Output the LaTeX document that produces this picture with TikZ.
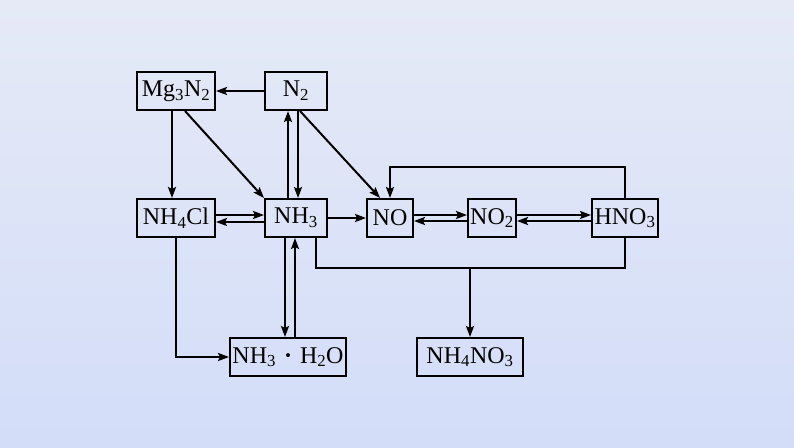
\documentclass[tikz,border=0pt]{standalone}
\usepackage{fontspec}
\setmainfont{Liberation Serif}
\usepackage{tikz}
\usetikzlibrary{arrows.meta,calc}

\definecolor{bgtop}{HTML}{E6EAF7}
\definecolor{bgbot}{HTML}{D3DDF8}

\tikzset{
    chem/.style={draw, line width=2pt, inner sep=0pt, minimum height=38pt,
        font=\fontsize{24}{26}\selectfont},
    link/.style={line width=2pt, -{Stealth[length=11pt,width=8pt,inset=2pt]}},
    wire/.style={line width=2pt}
}

\begin{document}
\begin{tikzpicture}[x=1pt,y=-1pt]
    \shade[top color=bgtop, bottom color=bgbot] (0,0) rectangle (794,447);
    \useasboundingbox (0,0) rectangle (794,447);

\begin{scope}[every node/.style={chem}]
    \node[minimum width=78pt] (mg) at (176,91){Mg\textsubscript{3}N\textsubscript{2}};
    \node[minimum width=62pt] (nn) at (296,91){N\textsubscript{2}};
    \node[minimum width=78pt] (cl) at (176,218){NH\textsubscript{4}Cl};
    \node[minimum width=62pt] (am) at (296,218){NH\textsubscript{3}};
    \node[minimum width=46pt] (no) at (390,218){NO};
    \node[minimum width=48pt] (nt) at (492,218){NO\textsubscript{2}};
    \node[minimum width=66pt] (ac) at (625,218){HNO\textsubscript{3}};
    \node[minimum width=116pt] (aq) at (288,357){NH\textsubscript{3}\,\,\textbf{·}\,\,H\textsubscript{2}O};
    \node[minimum width=106pt] (an) at (470,357){NH\textsubscript{4}NO\textsubscript{3}};
\end{scope}

    % top row
    \draw [link] (nn) -- (mg);
    \draw [link] ($(mg.south)+(-4,0)$) -- ($(cl.north)+(-4,0)$);
    \draw [link] ($(mg.south)+(9,0)$) -- (am.north west);
    \draw [link] ($(am.north)+(-8,0)$) -- ($(nn.south)+(-8,0)$);
    \draw [link] ($(nn.south)+(2,0)$) -- ($(am.north)+(2,0)$);
    \draw [link] ($(nn.south)+(4,0)$) -- ($(no.north)+(-10,0)$);

    % middle row
    \draw [link] ($(cl.east)+(0,-3)$) -- ($(am.west)+(0,-3)$);
    \draw [link] ($(am.west)+(0,4)$) -- ($(cl.east)+(0,4)$);
    \draw [link] (am) -- (no);
    \draw [link] ($(no.east)+(0,-3)$) -- ($(nt.west)+(0,-3)$);
    \draw [link] ($(nt.west)+(0,3)$) -- ($(no.east)+(0,3)$);
    \draw [link] ($(nt.east)+(0,-3)$) -- ($(ac.west)+(0,-3)$);
    \draw [link] ($(ac.west)+(0,3)$) -- ($(nt.east)+(0,3)$);
    \draw [link] (ac.north) -- ++(0,-31) -| (no.north);

    % bottom row
    \coordinate (bar) at ($(am.south)+(20,30)$);
    \draw [wire] ($(am.south)+(20,0)$) -- (bar) -| (ac.south);
    \draw [link] (bar -| an.north) -- (an.north);
    \draw [link] (cl.south) |- (aq.west);
    \coordinate (dn) at ($(aq.north)+(-3,0)$);
    \coordinate (up) at ($(aq.north)+(7,0)$);
    \draw [link] (dn |- am.south) -- (dn);
    \draw [link] (up) -- (up |- am.south);

\end{tikzpicture}
\end{document}
